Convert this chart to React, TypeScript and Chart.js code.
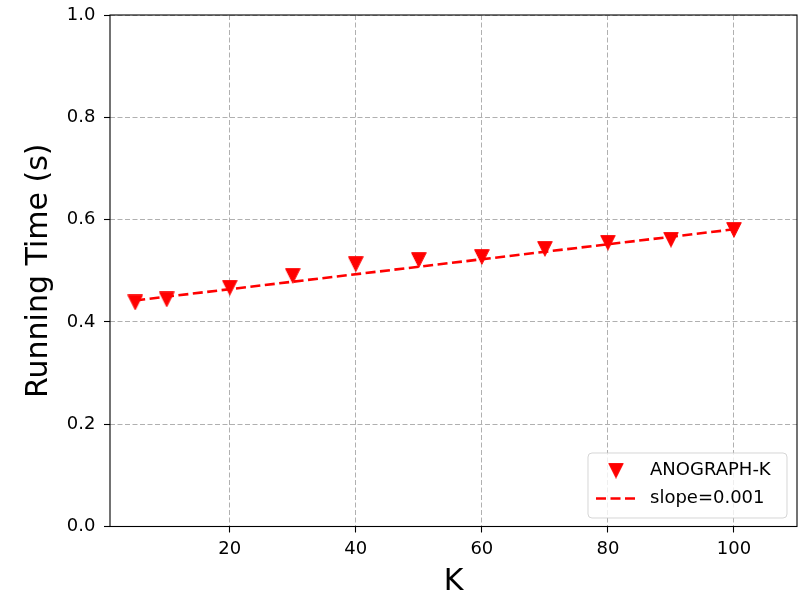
import React, { useEffect, useRef } from "react";
import { Chart, registerables } from "chart.js";

Chart.register(...registerables);

const kValues = [5, 10, 20, 30, 40, 50, 60, 70, 80, 90, 100];
const runningTimes = [0.438, 0.444, 0.467, 0.490, 0.513, 0.521, 0.527, 0.543, 0.555, 0.561, 0.580];
const fitK = [5, 100];
const fitTimes = [0.442, 0.581];
const xTicks = [20, 40, 60, 80, 100];
const seriesLabel = "ANOGRAPH-K";
const fitLabel = "slope=0.001";
const xTitle = "K";
const yTitle = "Running Time (s)";

const FONT = "'DejaVu Sans', sans-serif";

function makeTriangle(): HTMLCanvasElement {
  const c = document.createElement("canvas");
  c.width = 16;
  c.height = 16;
  const g = c.getContext("2d")!;
  g.beginPath();
  g.moveTo(0.7, 0.7);
  g.lineTo(15.3, 0.7);
  g.lineTo(8, 15.3);
  g.closePath();
  g.fillStyle = "#ff0000";
  g.fill();
  g.strokeStyle = "#ff0000";
  g.lineWidth = 1;
  g.stroke();
  return c;
}

export default function App() {
  const ref = useRef<HTMLCanvasElement | null>(null);

  useEffect(() => {
    if (!ref.current) return;
    const tri = makeTriangle();

    const framePlugin = {
      id: "framePlugin",
      afterDraw(chart: any) {
        const { ctx, chartArea } = chart;
        const { left, right, top, bottom } = chartArea;
        ctx.save();
        ctx.strokeStyle = "#000000";
        ctx.lineWidth = 1.1;
        ctx.setLineDash([]);
        ctx.strokeRect(left, top, right - left, bottom - top);

        // legend
        const lw = 199;
        const lh = 65;
        const lx = right - 10 - lw;
        const ly = bottom - 8.5 - lh;
        const r = 4;
        ctx.beginPath();
        ctx.moveTo(lx + r, ly);
        ctx.lineTo(lx + lw - r, ly);
        ctx.quadraticCurveTo(lx + lw, ly, lx + lw, ly + r);
        ctx.lineTo(lx + lw, ly + lh - r);
        ctx.quadraticCurveTo(lx + lw, ly + lh, lx + lw - r, ly + lh);
        ctx.lineTo(lx + r, ly + lh);
        ctx.quadraticCurveTo(lx, ly + lh, lx, ly + lh - r);
        ctx.lineTo(lx, ly + r);
        ctx.quadraticCurveTo(lx, ly, lx + r, ly);
        ctx.closePath();
        ctx.fillStyle = "rgba(255,255,255,0.8)";
        ctx.fill();
        ctx.strokeStyle = "rgba(204,204,204,0.8)";
        ctx.lineWidth = 1;
        ctx.stroke();

        const row1 = ly + 17.5;
        const row2 = ly + 45.5;
        ctx.drawImage(tri, lx + 28 - 8, row1 - 8);
        ctx.beginPath();
        ctx.strokeStyle = "#ff0000";
        ctx.lineWidth = 2.6;
        ctx.setLineDash([10, 4.5]);
        ctx.moveTo(lx + 8, row2);
        ctx.lineTo(lx + 47, row2);
        ctx.stroke();
        ctx.setLineDash([]);

        ctx.fillStyle = "#000000";
        ctx.font = `18px ${FONT}`;
        ctx.textAlign = "left";
        ctx.textBaseline = "middle";
        ctx.fillText(seriesLabel, lx + 62, row1);
        ctx.fillText(fitLabel, lx + 62, row2);
        ctx.restore();
      },
    };

    const chart = new Chart(ref.current, {
      type: "scatter",
      data: {
        datasets: [
          {
            label: seriesLabel,
            data: kValues.map((k, i) => ({ x: k, y: runningTimes[i] })),
            pointStyle: tri as any,
            pointRadius: 8,
            backgroundColor: "#ff0000",
            borderColor: "#ff0000",
            showLine: false,
          },
          {
            label: fitLabel,
            type: "line",
            data: fitK.map((k, i) => ({ x: k, y: fitTimes[i] })),
            borderColor: "#ff0000",
            borderWidth: 2.6,
            borderDash: [10, 4.5],
            pointRadius: 0,
            fill: false,
          } as any,
        ],
      },
      options: {
        animation: false,
        responsive: false,
        devicePixelRatio: 1,
        layout: { padding: { left: 0, top: 15, right: 11, bottom: 0 } },
        plugins: {
          legend: { display: false },
          tooltip: { enabled: false },
        },
        scales: {
          x: {
            type: "linear",
            min: 1,
            max: 110,
            afterBuildTicks: (s: any) => {
              s.ticks = xTicks.map((v) => ({ value: v }));
            },
            afterFit: (s: any) => {
              s.height = 69.5;
              s.paddingLeft = 0;
              s.paddingRight = 0;
            },
            ticks: {
              color: "#000000",
              font: { family: FONT, size: 18 },
              padding: 6,
              maxRotation: 0,
              autoSkip: false,
            },
            grid: {
              color: "#b0b0b0",
              lineWidth: 1,
              tickLength: 6,
              tickColor: "#000000",
              tickWidth: 1.1,
              tickBorderDash: [],
            },
            border: { display: false, dash: [5, 2.5] },
            title: {
              display: true,
              text: xTitle,
              color: "#000000",
              font: { family: FONT, size: 30, lineHeight: 1 },
              padding: { top: 0, bottom: -1 },
            },
          },
          y: {
            type: "linear",
            min: 0,
            max: 1,
            afterFit: (s: any) => {
              s.width = 110;
              s.paddingTop = 0;
              s.paddingBottom = 0;
            },
            ticks: {
              stepSize: 0.2,
              color: "#000000",
              font: { family: FONT, size: 18 },
              padding: 8.5,
              callback: (v: any) => Number(v).toFixed(1),
            },
            grid: {
              color: "#b0b0b0",
              lineWidth: 1,
              tickLength: 6,
              tickColor: "#000000",
              tickWidth: 1.1,
              tickBorderDash: [],
            },
            border: { display: false, dash: [5, 2.5] },
            title: {
              display: true,
              text: yTitle,
              color: "#000000",
              font: { family: FONT, size: 30, lineHeight: 1 },
              padding: { top: 24, bottom: 0 },
            },
          },
        },
      },
      plugins: [framePlugin],
    });

    return () => chart.destroy();
  }, []);

  return (
    <div style={{ position: "absolute", left: 0, top: 0, width: 808, height: 596, background: "#ffffff" }}>
      <canvas ref={ref} width={808} height={596} style={{ display: "block" }} />
    </div>
  );
}
